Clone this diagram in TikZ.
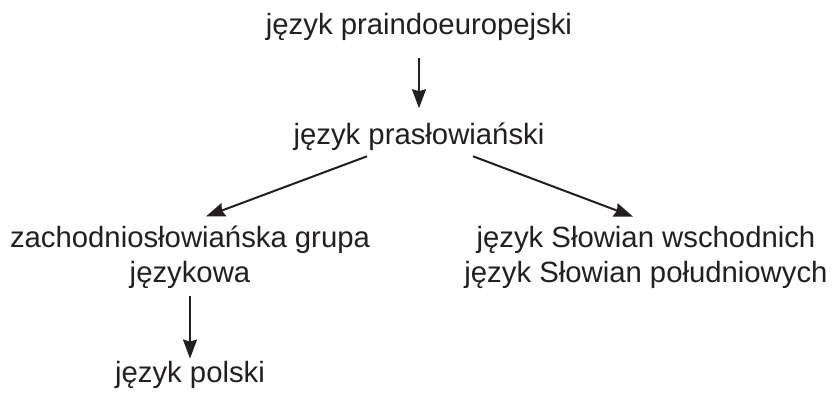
\documentclass[tikz,border=0pt]{standalone}
\usepackage{fontspec}
\setmainfont{Liberation Sans}
\usetikzlibrary{arrows.meta}
\definecolor{tekst}{RGB}{35,31,32}

\begin{document}
\begin{tikzpicture}[x=1pt, y=1pt, >={Stealth[length=19pt, width=14pt, inset=2pt]},
		every node/.style={inner sep=0pt, text=tekst, font=\fontsize{29.3}{35}\selectfont},
		strzalka/.style={->, draw=tekst, line width=2pt}]
	
	\useasboundingbox (0,0) rectangle (833,395);
	
	% ================= poziomy drzewa =================
	\node[anchor=base] (praindo) at (419,360) {język praindoeuropejski};
	\node[anchor=base] (praslow) at (419,250) {język prasłowiański};
	
	% dwie galezie
	\node[align=center] (zachod) at (190,138) {zachodniosłowiańska grupa\\językowa};
	\node[align=center] (wschod) at (646,138) {język Słowian wschodnich\\język Słowian południowych};
	
	\node[anchor=base] (polski) at (190,12) {język polski};
	
	% ================= strzalki =================
	\draw[strzalka, shorten <=17pt, shorten >=15pt] (praindo.south) -- (praindo.south |- praslow.north);
	\draw[strzalka] ([xshift=-52pt, yshift=-5pt]praslow.south) -- ([xshift=16pt, yshift=9pt]zachod.north);
	\draw[strzalka] ([xshift=54pt, yshift=-5pt]praslow.south) -- ([xshift=-13pt, yshift=9pt]wschod.north);
	\draw[strzalka] ([yshift=-7pt]zachod.south) -- ([yshift=3pt]polski.north);
	
\end{tikzpicture}
\end{document}
